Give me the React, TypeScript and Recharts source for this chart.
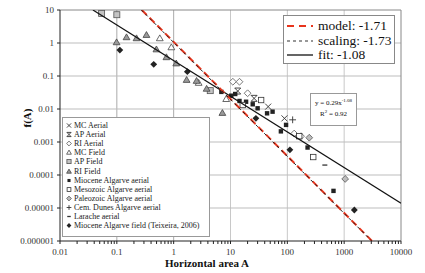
import React from 'react';
import {
  ComposedChart,
  Scatter,
  XAxis,
  YAxis,
  ReferenceLine,
} from 'recharts';

// decade ticks and labels
const xDecades = [0.01, 0.1, 1, 10, 100, 1000, 10000];
const xLabels = ['0.01', '0.1', '1', '10', '100', '1000', '10000'];
const yDecades = [0.000001, 0.00001, 0.0001, 0.001, 0.01, 0.1, 1, 10];
const yLabels = ['0.000001', '0.00001', '0.0001', '0.001', '0.01', '0.1', '1', '10'];
const minorSteps = [2, 3, 4, 5, 6, 7, 8, 9];

// series
const mcAerial = [{ x: 46, y: 0.0118 }, { x: 89, y: 0.0052 }];
const apAerial = [{ x: 13.4, y: 0.035 }, { x: 26, y: 0.021 }];
const riAerial = [
  { x: 11, y: 0.067 }, { x: 14.4, y: 0.067 }, { x: 20, y: 0.03 },
  { x: 132, y: 0.0018 }, { x: 174, y: 0.0015 },
];
const mcField = [
  { x: 0.57, y: 1.39 }, { x: 0.91, y: 0.74 }, { x: 2.75, y: 0.062 }, { x: 8.4, y: 0.02 },
];
const apField = [{ x: 0.054, y: 7.9 }, { x: 0.1, y: 7.2 }, { x: 4.4, y: 0.036 }];
const riField = [
  { x: 0.099, y: 1.05 }, { x: 0.148, y: 1.49 }, { x: 0.222, y: 1.39 }, { x: 0.332, y: 1.75 },
  { x: 0.497, y: 0.64 }, { x: 0.745, y: 0.37 }, { x: 1.11, y: 0.24 }, { x: 1.69, y: 0.076 },
  { x: 2.53, y: 0.071 }, { x: 3.8, y: 0.041 }, { x: 7.2, y: 0.0076 },
];
const mioceneAerial = [
  { x: 6.9, y: 0.033 }, { x: 10.3, y: 0.0253 }, { x: 12.1, y: 0.0285 }, { x: 14.4, y: 0.0175 },
  { x: 18.8, y: 0.0166 }, { x: 24.6, y: 0.0139 }, { x: 30, y: 0.0105 }, { x: 44, y: 0.0074 },
  { x: 55, y: 0.0083 }, { x: 95, y: 0.0033 }, { x: 77, y: 0.0021 }, { x: 227, y: 0.00068 },
  { x: 286, y: 0.00035 }, { x: 649, y: 0.000033 },
];
const mesozoic = [
  { x: 16.4, y: 0.0132 }, { x: 34.6, y: 0.0187 }, { x: 162, y: 0.0015 }, { x: 286, y: 0.00035 },
];
const paleozoic = [{ x: 243, y: 0.00135 }, { x: 1042, y: 0.000076 }];
const cemDunes = [{ x: 124, y: 0.0047 }];
const larache = [{ x: 457, y: 0.0002 }];
const mioceneField = [
  { x: 0.113, y: 0.61 }, { x: 0.446, y: 0.226 }, { x: 1.74, y: 0.135 },
  { x: 28, y: 0.0052 }, { x: 111, y: 0.00058 }, { x: 1510, y: 0.0000087 },
];

// line end points
const fitLine = [{ x: 0.038, y: 10 }, { x: 10000, y: 0.000014 }];
const modelLine = [{ x: 0.275, y: 10 }, { x: 3100, y: 0.000001 }];
const scalingLine = [{ x: 0.27, y: 10 }, { x: 3050, y: 0.000001 }];

const xTicks = [
  ...xDecades.slice(0, -1).flatMap((d) => [d, ...minorSteps.map((m) => d * m)]),
  10000,
];

const FONT = '"Liberation Serif", "Times New Roman", serif';

function fmt(v: number, decades: number[], labels: string[]) {
  const i = decades.findIndex((d) => Math.abs(v - d) / d < 1e-6);
  return i >= 0 ? labels[i] : '';
}

function Marker({ kind, cx, cy, k = 1 }: { kind: string; cx: number; cy: number; k?: number }) {
  const r = 3.4 * k;
  const q = 3 * k;
  switch (kind) {
    case 'x':
      return (
        <path
          d={`M${cx - q},${cy - q}L${cx + q},${cy + q}M${cx - q},${cy + q}L${cx + q},${cy - q}`}
          stroke="#333" strokeWidth={0.9} fill="none"
        />
      );
    case 'xbar':
      return (
        <path
          d={`M${cx - q},${cy - q}L${cx + q},${cy + q}M${cx - q},${cy + q}L${cx + q},${cy - q}M${cx - q},${cy - q}L${cx + q},${cy - q}M${cx - q},${cy + q}L${cx + q},${cy + q}`}
          stroke="#333" strokeWidth={0.9} fill="none"
        />
      );
    case 'diamondOpen':
      return (
        <polygon
          points={`${cx},${cy - r} ${cx + r},${cy} ${cx},${cy + r} ${cx - r},${cy}`}
          fill="#fff" stroke="#555" strokeWidth={0.8}
        />
      );
    case 'triOpen':
      return (
        <polygon
          points={`${cx},${cy - r} ${cx + r},${cy + r * 0.72} ${cx - r},${cy + r * 0.72}`}
          fill="#fff" stroke="#444" strokeWidth={0.8}
        />
      );
    case 'sqGray':
      return <rect x={cx - q} y={cy - q} width={2 * q} height={2 * q} fill="#c4c4c4" stroke="#555" strokeWidth={0.8} />;
    case 'triGray':
      return (
        <polygon
          points={`${cx},${cy - r} ${cx + r},${cy + r * 0.72} ${cx - r},${cy + r * 0.72}`}
          fill="#9a9a9a" stroke="#444" strokeWidth={0.8}
        />
      );
    case 'sqBlack':
      return <rect x={cx - 2.2 * k} y={cy - 2.2 * k} width={4.4 * k} height={4.4 * k} fill="#222" />;
    case 'sqOpen':
      return <rect x={cx - 2.7 * k} y={cy - 2.7 * k} width={5.4 * k} height={5.4 * k} fill="#fff" stroke="#333" strokeWidth={0.8} />;
    case 'diamondGray':
      return (
        <polygon
          points={`${cx},${cy - r} ${cx + r},${cy} ${cx},${cy + r} ${cx - r},${cy}`}
          fill="#bdbdbd" stroke="#555" strokeWidth={0.8}
        />
      );
    case 'plus':
      return (
        <path d={`M${cx - r},${cy}L${cx + r},${cy}M${cx},${cy - r}L${cx},${cy + r}`} stroke="#333" strokeWidth={0.9} />
      );
    case 'dash':
      return <path d={`M${cx - 2.5 * k},${cy}L${cx + 2.5 * k},${cy}`} stroke="#333" strokeWidth={1.3} />;
    case 'diamondBlack':
      return (
        <polygon
          points={`${cx},${cy - r} ${cx + r},${cy} ${cx},${cy + r} ${cx - r},${cy}`}
          fill="#222"
        />
      );
    default:
      return <g />;
  }
}

const series = [
  { name: 'MC Aerial', kind: 'x', data: mcAerial },
  { name: 'AP Aerial', kind: 'xbar', data: apAerial },
  { name: 'RI Aerial', kind: 'diamondOpen', data: riAerial },
  { name: 'MC Field', kind: 'triOpen', data: mcField },
  { name: 'AP Field', kind: 'sqGray', data: apField },
  { name: 'RI Field', kind: 'triGray', data: riField },
  { name: 'Miocene Algarve aerial', kind: 'sqBlack', data: mioceneAerial },
  { name: 'Mesozoic Algarve aerial', kind: 'sqOpen', data: mesozoic },
  { name: 'Paleozoic Algarve aerial', kind: 'diamondGray', data: paleozoic },
  { name: 'Cem. Dunes Algarve aerial', kind: 'plus', data: cemDunes },
  { name: 'Larache aerial', kind: 'dash', data: larache },
  { name: 'Miocene Algarve field (Teixeira, 2006)', kind: 'diamondBlack', data: mioceneField },
];

const gridX = [0.1, 1, 10, 100, 1000];
const gridY = [0.00001, 0.0001, 0.001, 0.01, 0.1, 1];

export default function App() {
  return (
    <div style={{ position: 'absolute', left: 0, top: 0, width: 425, height: 273, background: '#fff', fontFamily: FONT }}>
      <ComposedChart width={425} height={273} margin={{ top: 10, right: 24, bottom: 0, left: 0 }}>
        <XAxis
          dataKey="x"
          type="number"
          scale="log"
          domain={[0.01, 10000]}
          allowDataOverflow
          ticks={xTicks}
          interval={0}
          height={32}
          tickSize={3}
          tickMargin={5}
          tickFormatter={(v) => fmt(v, xDecades, xLabels)}
          stroke="#222"
          tick={{ fill: '#333', fontSize: 9, fontFamily: FONT }}
        />
        <YAxis
          dataKey="y"
          type="number"
          scale="log"
          domain={[0.000001, 10]}
          allowDataOverflow
          ticks={yDecades}
          interval={0}
          width={60}
          tickSize={3}
          tickMargin={3}
          tickFormatter={(v) => fmt(v, yDecades, yLabels)}
          stroke="#222"
          tick={{ fill: '#333', fontSize: 9, fontFamily: FONT }}
        />
        {gridX.map((v) => (
          <ReferenceLine key={'gx' + v} x={v} stroke={v < 5 ? '#aaa' : '#c8c8c8'} strokeWidth={1} />
        ))}
        {gridY.map((v) => (
          <ReferenceLine key={'gy' + v} y={v} stroke="#bdbdbd" strokeWidth={1} />
        ))}
        <ReferenceLine y={10} stroke="#888" />
        <ReferenceLine x={10000} stroke="#888" />
        {series.map((s) => (
          <Scatter
            key={s.name}
            name={s.name}
            data={s.data}
            isAnimationActive={false}
            shape={(p: any) => <Marker kind={s.kind} cx={p.cx} cy={p.cy} />}
          />
        ))}
        <Scatter
          name="fit"
          data={fitLine}
          isAnimationActive={false}
          line={{ stroke: '#111', strokeWidth: 1.2 }}
          shape={() => <g />}
        />
        <Scatter
          name="model"
          data={modelLine}
          isAnimationActive={false}
          line={{ stroke: '#e8341c', strokeWidth: 2, strokeDasharray: '7 4' }}
          shape={() => <g />}
        />
        <Scatter
          name="scaling"
          data={scalingLine}
          isAnimationActive={false}
          line={{ stroke: '#222', strokeWidth: 1, strokeDasharray: '3 3' }}
          shape={() => <g />}
        />
      </ComposedChart>

      {/* y axis title */}
      <div
        style={{
          position: 'absolute', left: 27, top: 118, transform: 'translate(-50%, -50%) rotate(-90deg)',
          fontSize: 11, fontWeight: 'bold', color: '#111', whiteSpace: 'nowrap',
        }}
      >
        f(A)
      </div>
      {/* x axis title */}
      <div
        style={{
          position: 'absolute', left: 207, top: 263, transform: 'translate(-50%, -50%)',
          fontSize: 11, fontWeight: 'bold', color: '#111', whiteSpace: 'nowrap',
        }}
      >
        Horizontal area A
      </div>

      {/* line legend */}
      <div
        style={{
          position: 'absolute', left: 283, top: 15, width: 110, height: 47,
          border: '1px solid #888', background: '#fff',
        }}
      >
        {[
          { label: 'model: -1.71', stroke: '#e8341c', dash: '7 5', w: 2 },
          { label: 'scaling: -1.73', stroke: '#333', dash: '3 3', w: 1.2 },
          { label: 'fit: -1.08', stroke: '#111', dash: undefined, w: 1.3 },
        ].map((r, i) => (
          <div key={r.label} style={{ position: 'absolute', left: 3, top: 3 + i * 14.5, height: 14, display: 'flex', alignItems: 'center' }}>
            <svg width={26} height={6} style={{ display: 'block' }}>
              <line x1={0} y1={3} x2={26} y2={3} stroke={r.stroke} strokeWidth={r.w} strokeDasharray={r.dash} />
            </svg>
            <span style={{ marginLeft: 5, fontSize: 13.5, lineHeight: '14px', color: '#111', whiteSpace: 'nowrap' }}>{r.label}</span>
          </div>
        ))}
      </div>

      {/* series legend */}
      <div
        style={{
          position: 'absolute', left: 62, top: 117, width: 146, height: 118,
          border: '1px solid #999', background: '#fff',
        }}
      >
        {series.map((s, i) => (
          <div
            key={s.name}
            style={{
              position: 'absolute', left: 2, top: Math.round(3 + i * 9.1), height: 9,
              display: 'flex', alignItems: 'center', lineHeight: '9px',
            }}
          >
            <svg width={8} height={9} style={{ display: 'block', flex: 'none' }}>
              <Marker kind={s.kind} cx={4} cy={4.5} k={0.7} />
            </svg>
            <span style={{ marginLeft: 1, fontSize: 8, lineHeight: '9px', color: '#222', whiteSpace: 'nowrap' }}>{s.name}</span>
          </div>
        ))}
      </div>

      {/* fit annotation */}
      <div
        style={{
          position: 'absolute', left: 310, top: 93, width: 45, height: 31,
          border: '1px solid #999', background: '#fff', fontSize: 7, color: '#111',
          textAlign: 'center', lineHeight: '11px',
        }}
      >
        <div style={{ marginTop: 4 }}>
          y = 0.29x<sup style={{ fontSize: 5, lineHeight: 0 }}>-1.08</sup>
        </div>
        <div>
          R<sup style={{ fontSize: 5, lineHeight: 0 }}>2</sup> = 0.92
        </div>
      </div>
    </div>
  );
}
